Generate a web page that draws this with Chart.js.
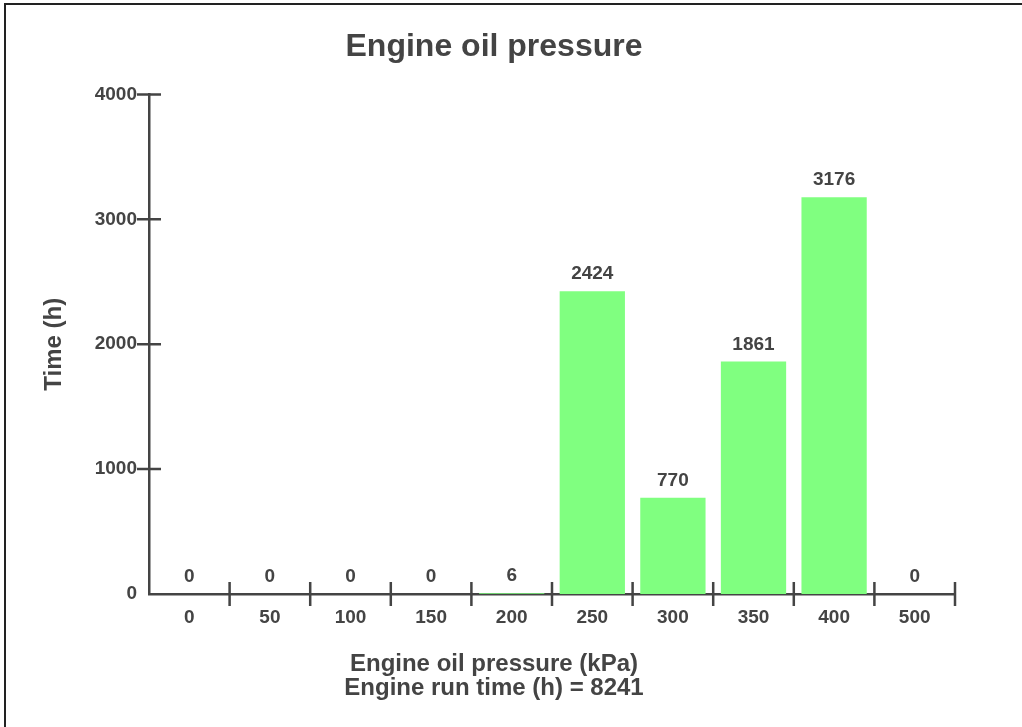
<!DOCTYPE html>
<html>
<head>
<meta charset="utf-8">
<script src="https://cdn.jsdelivr.net/npm/chart.js@4.4.1/dist/chart.umd.min.js"></script>
<style>
  html, body { margin: 0; padding: 0; background: #fff; overflow: hidden; }
  #wrap { position: relative; width: 1022px; height: 727px; }
  #frame {
    position: absolute; left: 4px; top: 3px; width: 2000px; height: 2000px;
    border-top: 2px solid #222; border-left: 2px solid #222; pointer-events: none;
  }
</style>
</head>
<body>
<div id="wrap">
  <canvas id="oilChart" width="1022" height="727"></canvas>
  <div id="frame"></div>
</div>
<script>
const pressureBins = ["0", "50", "100", "150", "200", "250", "300", "350", "400", "500"];
const hoursInBin = [0, 0, 0, 0, 6, 2424, 770, 1861, 3176, 0];
const runTimeTotal = 8241;

const textColor = "#444";
const axisColor = "#444";
const fontFamily = "'Liberation Sans', Arial, Helvetica, sans-serif";

// tick marks that cross the axis lines, plus value labels above bars
const crossTicks = {
  id: "crossTicks",
  afterDraw(chart) {
    const ctx = chart.ctx;
    const x = chart.scales.x;
    const y = chart.scales.y;
    const area = chart.chartArea;
    ctx.save();
    ctx.strokeStyle = axisColor;
    ctx.lineWidth = 2.5;
    ctx.beginPath();
    y.ticks.forEach((t) => {
      if (t.value === 0) return;
      const py = y.getPixelForValue(t.value);
      ctx.moveTo(area.left - 12, py);
      ctx.lineTo(area.left + 12, py);
    });
    for (let i = 1; i <= pressureBins.length; i++) {
      const px = x.getPixelForValue(i - 0.5);
      ctx.moveTo(px, area.bottom - 12);
      ctx.lineTo(px, area.bottom + 12);
    }
    ctx.stroke();

    ctx.fillStyle = textColor;
    ctx.font = "bold 19px " + fontFamily;
    ctx.textAlign = "center";
    ctx.textBaseline = "alphabetic";
    const meta = chart.getDatasetMeta(0);
    meta.data.forEach((bar, i) => {
      ctx.fillText(String(hoursInBin[i]), bar.x, bar.y - 12);
    });
    ctx.restore();
  },
};

new Chart(document.getElementById("oilChart"), {
  type: "bar",
  data: {
    labels: pressureBins,
    datasets: [
      {
        data: hoursInBin,
        backgroundColor: "#80ff80",
        borderWidth: 0,
        categoryPercentage: 1,
        barPercentage: 0.81,
      },
    ],
  },
  options: {
    responsive: false,
    animation: false,
    layout: {
      padding: { left: 33, right: 67, top: 0, bottom: 27 },
    },
    scales: {
      x: {
        grid: { display: false, drawTicks: false },
        border: { display: true, color: axisColor, width: 2.5 },
        ticks: {
          color: textColor,
          padding: 12,
          font: { family: fontFamily, size: 19, weight: "bold" },
        },
        afterFit(scale) {
          scale.height = 48;
        },
      },
      y: {
        min: 0,
        max: 4000,
        grid: { display: false, drawTicks: false },
        border: { display: true, color: axisColor, width: 2.5 },
        ticks: {
          stepSize: 1000,
          color: textColor,
          padding: 12,
          font: { family: fontFamily, size: 19, weight: "bold" },
          callback: (v) => String(v),
        },
        title: {
          display: true,
          text: "Time (h)",
          color: textColor,
          padding: { top: 7, bottom: 0 },
          font: { family: fontFamily, size: 24, weight: "bold" },
        },
        afterFit(scale) {
          scale.width = 116;
        },
      },
    },
    plugins: {
      legend: { display: false },
      tooltip: { enabled: false },
      title: {
        display: true,
        text: "Engine oil pressure",
        color: textColor,
        padding: { top: 28, bottom: 28 },
        font: { family: fontFamily, size: 32, weight: "bold" },
      },
      subtitle: {
        display: true,
        position: "bottom",
        text: ["Engine oil pressure (kPa)", "Engine run time (h) = " + runTimeTotal],
        color: textColor,
        padding: { top: 10, bottom: 0 },
        font: { family: fontFamily, size: 24, weight: "bold", lineHeight: 1.0 },
      },
    },
  },
  plugins: [crossTicks],
});
</script>
</body>
</html>
